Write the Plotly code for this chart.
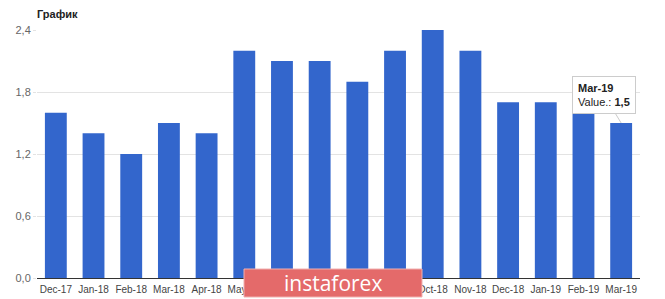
import plotly.graph_objects as go

categories = ["Dec-17", "Jan-18", "Feb-18", "Mar-18", "Apr-18", "May-18", "Jun-18", "Jul-18",
              "Aug-18", "Sep-18", "Oct-18", "Nov-18", "Dec-18", "Jan-19", "Feb-19", "Mar-19"]
values = [1.6, 1.4, 1.2, 1.5, 1.4, 2.2, 2.1, 2.1, 1.9, 2.2, 2.4, 2.2, 1.7, 1.7, 1.6, 1.5]
y_ticks = [0.0, 0.6, 1.2, 1.8, 2.4]
y_tick_labels = ["0,0", "0,6", "1,2", "1,8", "2,4"]
title_text = "График"
tooltip_cat = "Mar-19"
tooltip_val = "1,5"

fig = go.Figure(go.Bar(x=categories, y=values, marker=dict(color="#3366cc", line=dict(width=0)),
                       hoverinfo="skip"))

fig.update_layout(
    width=665, height=299,
    margin=dict(l=37, r=25, t=30, b=21, autoexpand=False),
    paper_bgcolor="white", plot_bgcolor="white",
    bargap=0.42, showlegend=False,
    font=dict(family="Arial, Liberation Sans, sans-serif", color="#444"),
    title=dict(text="<b>" + title_text + "</b>", x=37 / 665, xanchor="left", y=1 - 14 / 299,
               yanchor="middle", font=dict(size=11, color="#222")),
)
fig.update_xaxes(showgrid=False, showline=True, linecolor="#333", linewidth=1, automargin=False,
                 tickfont=dict(size=10, color="#444"), ticks="", ticklabelstandoff=2)
fig.update_yaxes(range=[0, 2.4], tickvals=y_ticks, ticktext=y_tick_labels, showgrid=True,
                 gridcolor="#e3e3e3", zeroline=False, ticks="outside", ticklen=3, automargin=False,
                 tickcolor="#e3e3e3", tickfont=dict(size=11, color="#666"), showline=False)

# tooltip
fig.add_annotation(x=tooltip_cat, y=values[categories.index(tooltip_cat)],
                   text="<b>" + tooltip_cat + "</b><br>Value.: <b>" + tooltip_val + "</b>",
                   showarrow=True, arrowhead=0, arrowcolor="#cccccc", arrowwidth=1,
                   ax=-17, ay=-28, align="left", bgcolor="white", bordercolor="#cccccc",
                   borderwidth=1, borderpad=5, font=dict(size=11, color="#222"))

# watermark
fig.add_shape(type="rect", xref="paper", yref="paper",
              x0=(244 - 37) / 603, x1=(422 - 37) / 603, y0=(278 - 297) / 248, y1=(278 - 269) / 248,
              fillcolor="#e46a6a", line=dict(color="#f0b0b0", width=1), layer="above")
fig.add_annotation(xref="paper", yref="paper", x=(333 - 37) / 603, y=(278 - 283) / 248,
                   text="instaforex", showarrow=False, xanchor="center", yanchor="middle",
                   font=dict(size=21, color="white", family="Open Sans, sans-serif"))

fig.write_html("out.html")
